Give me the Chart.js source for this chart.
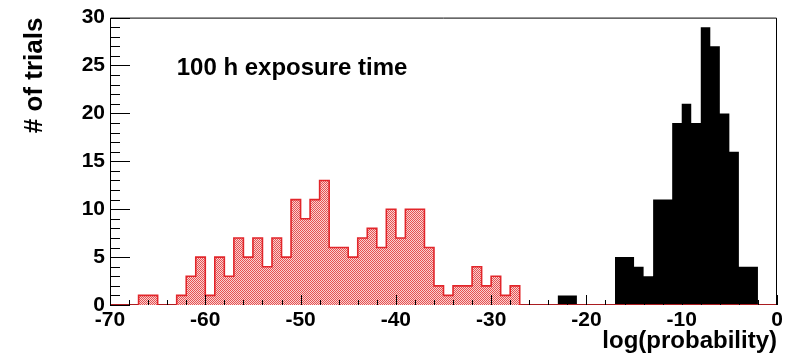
<!DOCTYPE html>
<html lang="en">
<head>
<meta charset="UTF-8">
<title>log(probability) histogram</title>
<script src="https://cdn.jsdelivr.net/npm/chart.js"></script>
<style>
    body { margin: 0; background: #fff; }
    canvas { display: block; }
</style>
</head>
<body>
<canvas id="histChart" width="787" height="358"></canvas>
<script>
// 70 bins of width 1, from -70 to 0
const binStart = -70;
const binWidth = 1;

// trials per bin, left to right
const redCounts = [
    0, 0, 0, 1, 1, 0, 0, 1, 3, 5,
    1, 5, 3, 7, 5, 7, 4, 7, 5, 11,
    9, 11, 13, 6, 6, 5, 7, 8, 6, 10,
    7, 10, 10, 6, 2, 1, 2, 2, 4, 2,
    3, 1, 2, 0, 0, 0, 0, 0, 0, 0,
    0, 0, 0, 0, 0, 0, 0, 0, 0, 0,
    0, 0, 0, 0, 0, 0, 0, 0, 0, 0
];
const blackCounts = [
    0, 0, 0, 0, 0, 0, 0, 0, 0, 0,
    0, 0, 0, 0, 0, 0, 0, 0, 0, 0,
    0, 0, 0, 0, 0, 0, 0, 0, 0, 0,
    0, 0, 0, 0, 0, 0, 0, 0, 0, 0,
    0, 0, 0, 0, 0, 0, 0, 1, 1, 0,
    0, 0, 0, 5, 5, 4, 3, 11, 11, 19,
    21, 19, 29, 27, 20, 16, 4, 4, 0, 0
];

const xMin = -70, xMax = 0, xStep = 10;
const yMin = 0, yMax = 30, yStep = 5;
const xTitle = 'log(probability)';
const yTitle = '# of trials';
const captionText = '100 h exposure time';

const FONT = '"Liberation Sans", Arial, Helvetica, sans-serif';

// left bin edges with their counts, plus the closing right edge
function stepPoints(counts) {
    const pts = counts.map((c, i) => ({ x: binStart + i * binWidth, y: c }));
    pts.push({ x: binStart + counts.length * binWidth, y: counts[counts.length - 1] });
    return pts;
}

// fine red/pink checker fill
function checker() {
    const c = document.createElement('canvas');
    c.width = 2; c.height = 2;
    const g = c.getContext('2d');
    g.fillStyle = '#f9d2d2';
    g.fillRect(0, 0, 2, 2);
    g.fillStyle = '#e65252';
    g.fillRect(0, 0, 1, 1);
    g.fillRect(1, 1, 1, 1);
    return g.createPattern(c, 'repeat');
}

// frame + inward ticks, ROOT style
const frameTicks = {
    id: 'frameTicks',
    beforeDatasetsDraw(chart) {
        const { ctx, chartArea: a } = chart;
        ctx.save();
        ctx.strokeStyle = '#000';
        ctx.lineWidth = 1;
        ctx.beginPath();
        ctx.moveTo(a.left, a.bottom - 0.5);
        ctx.lineTo(a.right, a.bottom - 0.5);
        ctx.stroke();
        ctx.restore();
    },
    afterDatasetsDraw(chart) {
        const { ctx, chartArea: a, scales: { x, y } } = chart;
        ctx.save();
        ctx.strokeStyle = '#000';
        ctx.lineWidth = 1;
        ctx.beginPath();
        ctx.moveTo(a.left + 0.5, a.bottom);
        ctx.lineTo(a.left + 0.5, a.top + 0.5);
        ctx.lineTo(a.right - 0.5, a.top + 0.5);
        ctx.lineTo(a.right - 0.5, a.bottom);
        for (let v = yMin; v <= yMax; v++) {
            const py = Math.round(y.getPixelForValue(v)) + 0.5;
            ctx.moveTo(a.left, py);
            ctx.lineTo(a.left + (v % yStep === 0 ? 20 : 10), py);
        }
        for (let v = xMin; v <= xMax; v += 2) {
            const px = Math.round(x.getPixelForValue(v)) + 0.5;
            ctx.moveTo(px, a.bottom);
            ctx.lineTo(px, a.bottom - (v % xStep === 0 ? 10 : 5));
        }
        ctx.stroke();
        ctx.restore();
    }
};

const caption = {
    id: 'caption',
    afterDraw(chart) {
        const { ctx, scales: { x, y } } = chart;
        ctx.save();
        ctx.font = 'bold 24px ' + FONT;
        ctx.fillStyle = '#000';
        ctx.textBaseline = 'alphabetic';
        ctx.fillText(captionText, x.getPixelForValue(-63), y.getPixelForValue(24));
        ctx.restore();
    }
};

const tickFont = { family: FONT, size: 21, weight: 'bold' };

new Chart(document.getElementById('histChart'), {
    type: 'line',
    data: {
        datasets: [
            {
                data: stepPoints(redCounts),
                stepped: true,
                fill: 'origin',
                backgroundColor: checker(),
                borderColor: '#e2262b',
                borderWidth: 1.6,
                pointRadius: 0,
                order: 1
            },
            {
                data: stepPoints(blackCounts),
                stepped: true,
                fill: 'origin',
                backgroundColor: '#000',
                borderColor: '#000',
                borderWidth: 0,
                pointRadius: 0,
                order: 2
            }
        ]
    },
    options: {
        responsive: false,
        animation: false,
        layout: { padding: { top: 14, right: 10, left: 0, bottom: 0 } },
        plugins: { legend: { display: false }, tooltip: { enabled: false } },
        scales: {
            x: {
                type: 'linear',
                min: xMin,
                max: xMax,
                ticks: { stepSize: xStep, font: tickFont, color: '#000', padding: 3, maxRotation: 0 },
                grid: { display: false, drawTicks: false },
                border: { display: false },
                title: {
                    display: true,
                    text: xTitle,
                    align: 'end',
                    color: '#000',
                    font: { family: FONT, size: 24, weight: 'bold' },
                    padding: { top: 0, bottom: 2 }
                },
                afterFit: s => { s.height = 53; }
            },
            y: {
                min: yMin,
                max: yMax,
                ticks: { stepSize: yStep, font: tickFont, color: '#000', padding: 5 },
                grid: { display: false, drawTicks: false },
                border: { display: false },
                title: {
                    display: true,
                    text: yTitle,
                    align: 'end',
                    color: '#000',
                    font: { family: FONT, size: 26, weight: 'bold' },
                    padding: { top: 19, bottom: 0 }
                },
                afterFit: s => { s.width = 110; }
            }
        }
    },
    plugins: [frameTicks, caption]
});
</script>
</body>
</html>
